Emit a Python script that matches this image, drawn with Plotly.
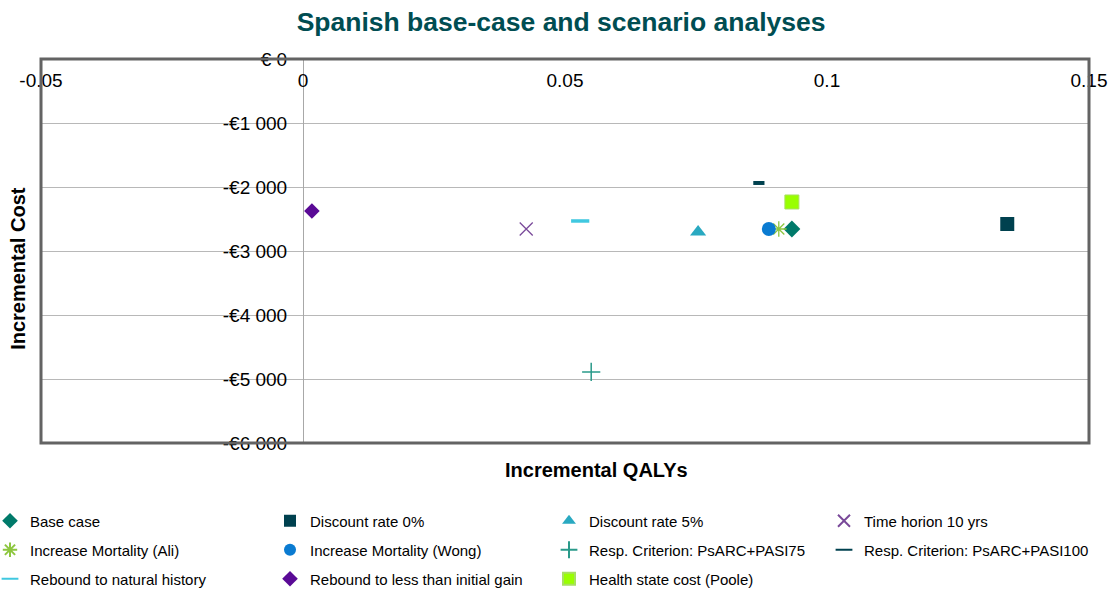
import plotly.graph_objects as go

# ---- data ----
series_names = [
    "Base case", "Discount rate 0%", "Discount rate 5%", "Time horion 10 yrs",
    "Increase Mortality (Ali)", "Increase Mortality (Wong)",
    "Resp. Criterion: PsARC+PASI75", "Resp. Criterion: PsARC+PASI100",
    "Rebound to natural history", "Rebound to less than initial gain",
    "Health state cost (Poole)",
]
qalys = [0.0933, 0.1344, 0.0754, 0.0426, 0.0908, 0.0889, 0.0550, 0.0870, 0.0529, 0.0017, 0.0933]
costs = [-2656, -2578, -2703, -2656, -2656, -2656, -4890, -1937, -2531, -2375, -2234]

x_tickvals = [-0.05, 0, 0.05, 0.1, 0.15]
x_ticktext = ["-0.05", "0", "0.05", "0.1", "0.15"]
y_tickvals = [0, -1000, -2000, -3000, -4000, -5000, -6000]
y_ticktext = ["€ 0", "-€1 000", "-€2 000", "-€3 000", "-€4 000", "-€5 000", "-€6 000"]

# ---- styles ----
styles = [
    dict(symbol="diamond", color="#007A6A", size=13, line=dict(width=0)),
    dict(symbol="square", color="#00414F", size=14, line=dict(width=0)),
    dict(symbol="triangle-up", color="#29A9C1", size=14, line=dict(width=0)),
    dict(symbol="x-thin-open", color="#7A4A9A", size=13, line=dict(width=1.3, color="#7A4A9A")),
    dict(symbol="asterisk-open", color="#8DC63F", size=13, line=dict(width=1.3, color="#8DC63F")),
    dict(symbol="circle", color="#0A7BD1", size=14, line=dict(width=0)),
    dict(symbol="cross-thin-open", color="#2A9A8A", size=13, line=dict(width=1.5, color="#2A9A8A")),
    dict(symbol="line-ew-open", color="#00414F", size=8, line=dict(width=4, color="#00414F")),
    dict(symbol="line-ew-open", color="#40C8E0", size=13, line=dict(width=3.5, color="#40C8E0")),
    dict(symbol="diamond", color="#5A0A96", size=12, line=dict(width=0)),
    dict(symbol="square", color="#99FF00", size=14, line=dict(width=1, color="#A8E060")),
]

# legend grid placement (4 columns x 3 rows), pixel positions of each entry's text
col_text_px = [28, 308, 587, 862]
row_center_px = [521, 550, 579]

M_L, M_R, M_T, M_B = 41, 22, 59, 146
W, H = 1111, 589
plot_w = W - M_L - M_R

fig = go.Figure()
legend_layouts = {}
font_family = "Liberation Sans, Arial, sans-serif"
for i, (name, xv, yv, st) in enumerate(zip(series_names, qalys, costs, styles)):
    key = "legend" if i == 0 else f"legend{i + 1}"
    fig.add_trace(go.Scatter(
        x=[xv], y=[yv], mode="markers", name=name, legend=key,
        marker=st,
    ))
    col, row = i % 4, i // 4
    legend_layouts[key] = dict(
        orientation="h", xref="paper", yref="container",
        x=(col_text_px[col] - 38 - M_L) / plot_w, xanchor="left",
        y=1 - row_center_px[row] / H, yanchor="middle",
        font=dict(size=15, color="black", family=font_family),
        itemsizing="constant", bgcolor="rgba(0,0,0,0)",
    )

fig.update_layout(
    width=W, height=H,
    margin=dict(l=M_L, r=M_R, t=M_T, b=M_B, autoexpand=False),
    paper_bgcolor="white", plot_bgcolor="white",
    font=dict(family=font_family, color="black", size=15),
    title=dict(text="<b>Spanish base-case and scenario analyses</b>",
               x=0.505, xanchor="center", yref="container", y=1 - 22 / H, yanchor="middle",
               font=dict(size=26.5, color="#004D52", family=font_family)),
    xaxis=dict(range=[-0.05, 0.15], side="bottom", anchor="free", position=1,
               tickvals=x_tickvals, ticktext=x_ticktext,
               showgrid=False, zeroline=False, showline=False, automargin=False,
               ticks="outside", ticklen=4, tickcolor="rgba(0,0,0,0)",
               tickfont=dict(size=19)),
    yaxis=dict(range=[-6000, 0], tickvals=y_tickvals, ticktext=y_ticktext,
               anchor="free", position=0.25, automargin=False,
               showgrid=True, gridcolor="#B8B8B8", gridwidth=1,
               zeroline=False, showline=True, linecolor="#A8A8A8", linewidth=1,
               ticks="outside", ticklen=12, tickcolor="rgba(0,0,0,0)",
               tickfont=dict(size=19)),
    showlegend=True,
    shapes=[dict(type="rect", xref="paper", yref="paper", x0=0, x1=1, y0=0, y1=1,
                 line=dict(color="#636363", width=3), layer="above")],
    annotations=[
        dict(text="<b>Incremental Cost</b>", xref="paper", yref="paper",
             x=-0.022, y=0.456, xanchor="center", yanchor="middle", textangle=-90,
             showarrow=False, font=dict(size=20)),
        dict(text="<b>Incremental QALYs</b>", xref="paper", yref="paper",
             x=0.53, y=-0.07, xanchor="center", yanchor="middle",
             showarrow=False, font=dict(size=20)),
    ],
)
fig.update_layout(**legend_layouts)

fig.write_html("out.html", config={"displayModeBar": False},
               post_script="document.body.style.margin='0';document.body.style.overflow='hidden';")
